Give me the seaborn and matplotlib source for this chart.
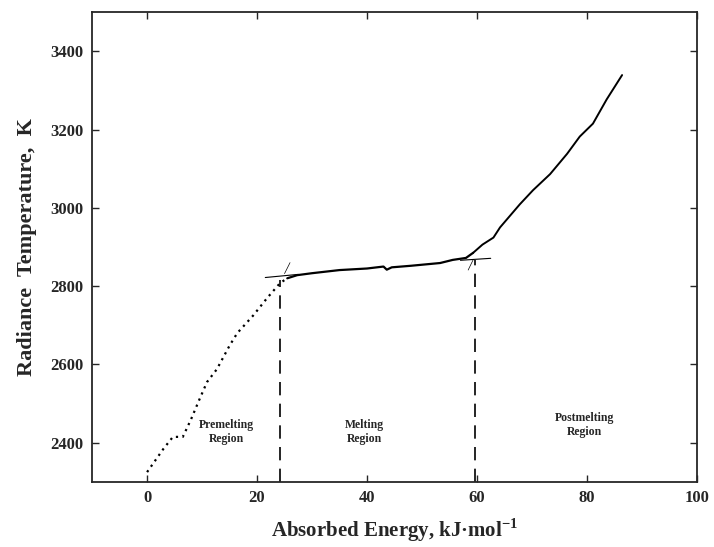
from matplotlib import pyplot as plt
import pandas as pd
import numpy as np
import seaborn as sns

# curve (kJ/mol, K)
energy_pre = [0, 1.5, 3, 4.7, 6.5, 8, 9.5, 10.9, 12.7, 15, 16.4, 19.3, 21.8, 24.2, 25.5]
temp_pre = [2325, 2355, 2385, 2415, 2415, 2460, 2510, 2555, 2588, 2648, 2680, 2725, 2769, 2808, 2820]

energy_melt = [25.5, 27.3, 30, 35, 40, 43, 43.6, 44.5, 48, 53.3, 55.6, 58, 59.3]
temp_melt = [2820, 2828, 2833, 2841, 2845, 2850, 2842, 2848, 2852, 2859, 2867, 2872, 2885]

energy_post = [59.3, 61, 63, 64.2, 67.8, 70.2, 73.3, 76.4, 78.7, 81.1, 83.6, 86.4]
temp_post = [2885, 2906, 2924, 2950, 3009, 3045, 3086, 3138, 3182, 3215, 3277, 3339]

# boundaries of the melting region
onset_e, onset_t = 24.2, 2815
end_e, end_t = 59.6, 2868

region_names = ['Premelting\nRegion', 'Melting\nRegion', 'Postmelting\nRegion']
region_x = [14.4, 39.6, 79.6]
region_y = [2428, 2428, 2446]

sns.set_style('ticks')
plt.rcParams['font.family'] = ['Liberation Serif', 'DejaVu Serif']
plt.rcParams['font.weight'] = 'bold'
plt.rcParams['mathtext.fontset'] = 'custom'
plt.rcParams['mathtext.rm'] = 'Liberation Serif:bold'
plt.rcParams['mathtext.bf'] = 'Liberation Serif:bold'

fig = plt.figure(figsize=(7.14, 5.47), dpi=100)
ax = fig.add_axes([0.129, 0.119, 0.847, 0.859])

pre = pd.DataFrame({'e': energy_pre, 't': temp_pre})
melt = pd.DataFrame({'e': energy_melt, 't': temp_melt})
post = pd.DataFrame({'e': energy_post, 't': temp_post})

sns.lineplot(data=pre, x='e', y='t', ax=ax, color='black', lw=1.6, ls=(0, (1, 2)))
sns.lineplot(data=melt, x='e', y='t', ax=ax, color='black', lw=1.6)
sns.lineplot(data=post, x='e', y='t', ax=ax, color='black', lw=1.4)

# dashed drops to the axis
ax.plot([onset_e, onset_e], [2300, onset_t], color='black', lw=1.2, ls=(0, (8, 5)))
ax.plot([end_e, end_e], [2300, end_t], color='black', lw=1.2, ls=(0, (8, 5)))

# tangent extensions
ax.plot([21.5, 27.5], [2822, 2830], color='black', lw=0.8)
ax.plot([57, 62.5], [2866, 2871], color='black', lw=0.8)
ax.plot([25, 26], [2832, 2860], color='black', lw=0.5)
ax.plot([58.4, 59.3], [2841, 2867], color='black', lw=0.5)

for name, x, y in zip(region_names, region_x, region_y):
    ax.text(x, y, name, ha='center', va='center', fontsize=8.5, fontweight='bold')

ax.set_xlim(-10, 100)
ax.set_ylim(2300, 3500)
ax.set_xticks([0, 20, 40, 60, 80, 100])
ax.set_yticks([2400, 2600, 2800, 3000, 3200, 3400])
ax.tick_params(direction='in', top=True, right=True, length=5, width=1, labelsize=12, pad=6)
for s in ax.spines.values():
    s.set_linewidth(1.3)

ax.set_xlabel('Absorbed Energy, kJ\u00b7mol$^{-1}$', fontsize=15, fontweight='bold', labelpad=7)
ax.set_ylabel('Radiance  Temperature,  K', fontsize=16, fontweight='bold', labelpad=10)

fig.savefig('out.png', dpi=100)
